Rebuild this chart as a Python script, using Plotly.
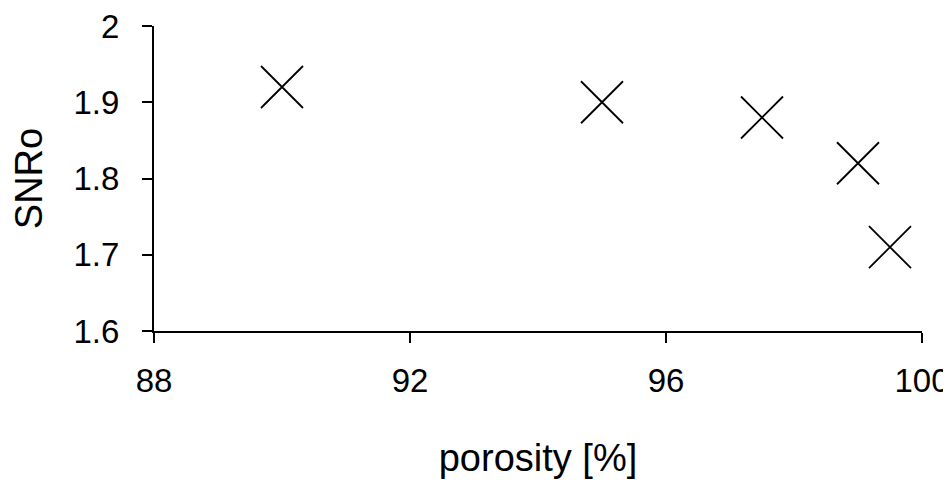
import plotly.graph_objects as go

porosity = [90.0, 95.0, 97.5, 99.0, 99.5]
snr0 = [1.92, 1.90, 1.88, 1.82, 1.71]

x_ticks = [88, 92, 96, 100]
y_ticks = [1.6, 1.7, 1.8, 1.9, 2.0]
y_tick_labels = ["1.6", "1.7", "1.8", "1.9", "2"]

fig = go.Figure()
fig.add_trace(go.Scatter(
    x=porosity, y=snr0, mode="markers",
    marker=dict(symbol="x-thin", size=42, line=dict(color="black", width=1.8)),
    showlegend=False,
    cliponaxis=False,
))

font = "Liberation Sans, Arial, sans-serif"
# page body has an 8px margin, so the figure is shrunk by 8px and margins adjusted
fig.update_layout(
    width=943, height=473,
    margin=dict(l=146, r=29, t=18, b=150),
    paper_bgcolor="white", plot_bgcolor="white",
    font=dict(family=font, color="black", size=33),
    xaxis=dict(
        range=[88, 100], tickvals=x_ticks, ticktext=[str(v) for v in x_ticks],
        showgrid=False, zeroline=False, showline=True, linecolor="black", linewidth=2,
        ticks="outside", ticklen=10, tickwidth=2, tickcolor="black",
        ticklabelstandoff=9, automargin=False, ticklabeloverflow="allow",
        tickfont=dict(size=33),
        title=dict(text="porosity [%]", font=dict(size=38), standoff=47),
    ),
    yaxis=dict(
        range=[1.6, 2.0], tickvals=y_ticks, ticktext=y_tick_labels,
        showgrid=False, zeroline=False, showline=True, linecolor="black", linewidth=2,
        ticks="outside", ticklen=10, tickwidth=2, tickcolor="black",
        ticklabelstandoff=16, automargin=False, ticklabeloverflow="allow",
        tickfont=dict(size=33),
        title=dict(text="SNRo", font=dict(size=38), standoff=30),
    ),
)
fig.write_html("out.html")
